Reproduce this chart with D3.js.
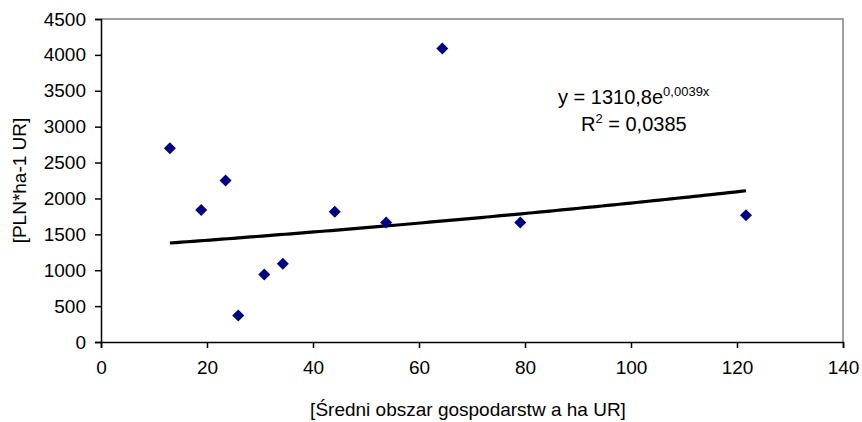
<!DOCTYPE html>
<html>
<head>
<meta charset="utf-8">
<script src="https://cdn.jsdelivr.net/npm/d3@7"></script>
<style>
  html, body { margin: 0; padding: 0; background: #ffffff; }
  svg { display: block; font-family: "Liberation Sans", Arial, sans-serif; }
</style>
</head>
<body>
<svg id="chart" width="862" height="422"></svg>
<script>
// ---- data ----
const areaX = [13.0, 18.9, 23.5, 25.9, 30.8, 34.3, 44.1, 53.8, 64.4, 79.1, 121.7];
const valueY = [2700, 1840, 2250, 370, 940, 1090, 1815, 1665, 4090, 1665, 1765];
const xTicks = [0, 20, 40, 60, 80, 100, 120, 140];
const yTicks = [0, 500, 1000, 1500, 2000, 2500, 3000, 3500, 4000, 4500];
const trendCoef = 1310.8;
const trendExp = 0.0039;
const xTitle = "[Średni obszar gospodarstw a ha UR]";
const yTitle = "[PLN*ha-1 UR]";

// ---- layout ----
const svg = d3.select("#chart");
const L = 101, R = 843, T = 19, B = 342;
const x = d3.scaleLinear().domain([0, 140]).range([L, R]);
const y = d3.scaleLinear().domain([0, 4500]).range([B, T]);

// plot frame (top/right grey)
svg.append("path")
  .attr("d", `M${L},${T}H${R}V${B}`)
  .attr("fill", "none").attr("stroke", "#808080").attr("stroke-width", 1.5);

// axes
const fs = 19;
const yAxis = svg.append("g").attr("transform", `translate(${L},0)`)
  .call(d3.axisLeft(y).tickValues(yTicks).tickSize(6).tickPadding(9).tickFormat(d3.format("d")));
const xAxis = svg.append("g").attr("transform", `translate(0,${B})`)
  .call(d3.axisBottom(x).tickValues(xTicks).tickSize(6).tickPadding(13).tickFormat(d3.format("d")));
[yAxis, xAxis].forEach(g => {
  g.select(".domain").attr("stroke", "#000").attr("stroke-width", 1.5);
  g.selectAll(".tick line").attr("stroke", "#000").attr("stroke-width", 1.5);
  g.selectAll(".tick text").attr("fill", "#000").style("font-size", fs + "px")
    .style("font-family", "'Liberation Sans', Arial, sans-serif");
});

// trend line from the displayed equation
const xMin = d3.min(areaX), xMax = d3.max(areaX);
const trendPts = d3.range(0, 101).map(i => {
  const xv = xMin + (xMax - xMin) * i / 100;
  return [xv, trendCoef * Math.exp(trendExp * xv)];
});
svg.append("path")
  .datum(trendPts)
  .attr("d", d3.line().x(d => x(d[0])).y(d => y(d[1])))
  .attr("fill", "none").attr("stroke", "#000").attr("stroke-width", 3.2);

// points (diamonds)
const diamond = d3.symbol().type(d3.symbolSquare).size(72);
svg.append("g").selectAll("path")
  .data(areaX.map((v, i) => [v, valueY[i]]))
  .join("path")
  .attr("d", diamond)
  .attr("transform", d => `translate(${x(d[0])},${y(d[1])}) rotate(45)`)
  .attr("fill", "#000080");

// equation
const eq = svg.append("text").attr("x", 558).attr("y", 104)
  .style("font-size", "20px").attr("fill", "#000");
eq.append("tspan").text("y = 1310,8e");
eq.append("tspan").attr("dy", -8).style("font-size", "13px").text("0,0039x");
const r2 = svg.append("text").attr("x", 581).attr("y", 131)
  .style("font-size", "20px").attr("fill", "#000");
r2.append("tspan").text("R");
r2.append("tspan").attr("dy", -8).style("font-size", "13px").text("2");
r2.append("tspan").attr("dy", 8).text(" = 0,0385");

// axis titles
svg.append("text").attr("x", (L + R) / 2 - 4).attr("y", 416)
  .attr("text-anchor", "middle").style("font-size", fs + "px").attr("fill", "#000")
  .text(xTitle);
svg.append("text")
  .attr("transform", `translate(26,${(T + B) / 2}) rotate(-90)`)
  .attr("text-anchor", "middle").style("font-size", fs + "px").attr("fill", "#000")
  .text(yTitle);
</script>
</body>
</html>
